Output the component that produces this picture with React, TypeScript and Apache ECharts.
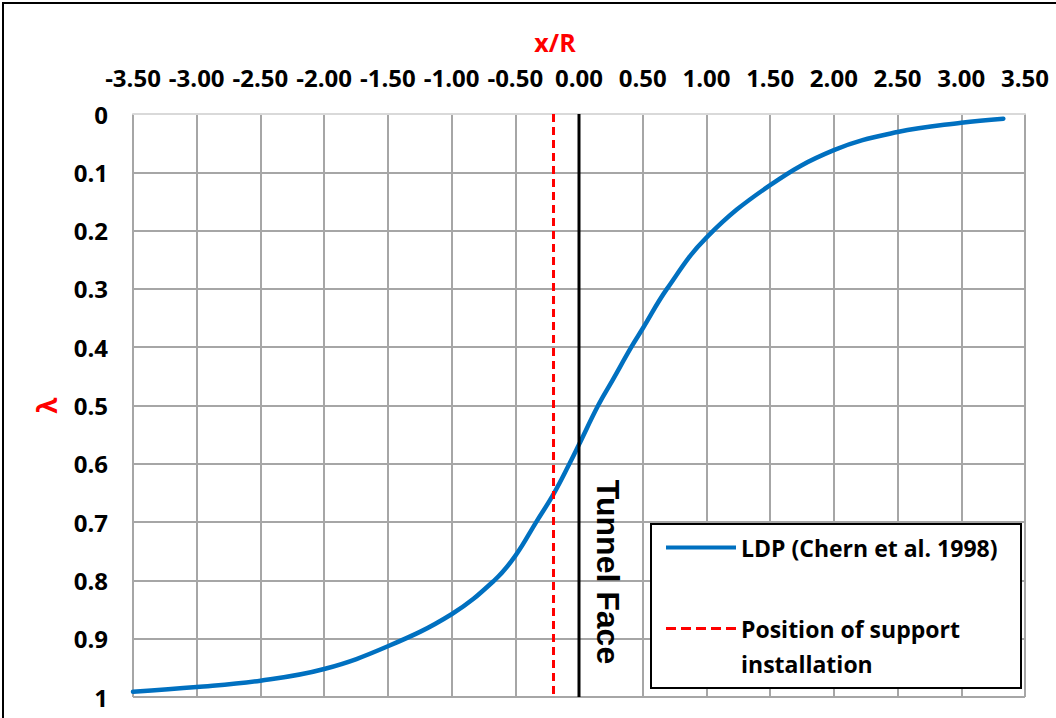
import React, { useEffect, useRef } from "react";
import * as echarts from "echarts";

// x/R positions
const xOverR = [-3.5, -3.0, -2.5, -2.0, -1.5, -1.0, -0.664, -0.5, -0.336, -0.2, -0.075, 0, 0.15, 0.265, 0.41, 0.5, 0.69, 1.0, 1.5, 2.0, 2.5, 3.0, 3.33];
// lambda values (inverted axis, 0 at top)
const lambdaVals = [0.991, 0.983, 0.972, 0.952, 0.913, 0.858, 0.8, 0.758, 0.7, 0.652, 0.6, 0.567, 0.5, 0.456, 0.4, 0.368, 0.3, 0.212, 0.122, 0.062, 0.031, 0.015, 0.008];

const supportX = -0.2;
const tunnelFaceX = 0;
const lambdaRange = [0, 1];

const ldpName = "LDP (Chern et al. 1998)";
const supportName = "Position of support installation";

export default function App() {
  const ref = useRef<HTMLDivElement>(null);
  useEffect(() => {
    if (!ref.current) return;
    const chart = echarts.init(ref.current, undefined, { renderer: "svg" });
    const font = "'Open Sans', sans-serif";
    const legendText = { color: "#000", fontFamily: font, fontWeight: "bold", fontSize: 23, lineHeight: 35 };
    chart.setOption({
      animation: false,
      backgroundColor: "#fff",
      grid: { left: 133, right: 31, top: 114, bottom: 21, containLabel: false },
      xAxis: {
        type: "value",
        position: "top",
        min: -3.5,
        max: 3.5,
        interval: 0.5,
        axisLine: { show: true, lineStyle: { color: "#D9D9D9", width: 2 } },
        axisTick: { show: false },
        axisLabel: {
          margin: 25,
          formatter: (v: number) => v.toFixed(2),
          color: "#000",
          fontFamily: font,
          fontWeight: "bold",
          fontSize: 24,
        },
        splitLine: { show: true, lineStyle: { color: "#A6A6A6", width: 2 } },
      },
      yAxis: {
        type: "value",
        inverse: true,
        min: 0,
        max: 1,
        interval: 0.1,
        name: "λ",
        nameLocation: "middle",
        nameRotate: 90,
        nameGap: 73,
        nameTextStyle: { color: "#FF0000", fontSize: 26, fontWeight: "bold", fontFamily: font },
        axisLine: { show: false },
        axisTick: { show: false },
        axisLabel: {
          margin: 25,
          formatter: (v: number) => String(Number(v.toFixed(1))),
          color: "#000",
          fontFamily: font,
          fontWeight: "bold",
          fontSize: 24,
        },
        splitLine: { show: true, showMinLine: false, lineStyle: { color: "#A6A6A6", width: 2 } },
      },
      legend: [
        {
          data: [{ name: ldpName, icon: "path://M0 0H70V4H0Z" }],
          left: 666,
          top: 530,
          padding: 0,
          z: 10,
          itemWidth: 70,
          itemHeight: 14,
          textStyle: legendText,
        },
        {
          data: [
            {
              name: supportName,
              icon: "path://M0 0H10V3H0Z M15 0H25V3H15Z M30 0H40V3H30Z M45 0H55V3H45Z M60 0H70V3H60Z",
            },
          ],
          left: 666,
          top: 576,
          padding: 0,
          z: 10,
          itemWidth: 70,
          itemHeight: 14,
          formatter: () => "\nPosition of support\ninstallation",
          textStyle: legendText,
        },
      ],
      series: [
        {
          name: ldpName,
          type: "line",
          smooth: 0.4,
          symbol: "none",
          data: xOverR.map((x, i) => [x, lambdaVals[i]]),
          lineStyle: { color: "#0070C0", width: 4.5, cap: "round" },
          itemStyle: { color: "#0070C0" },
          z: 3,
        },
        {
          name: supportName,
          type: "line",
          symbol: "none",
          data: lambdaRange.map((l) => [supportX, l]),
          lineStyle: { color: "#FF0000", width: 3, type: [8, 5] },
          itemStyle: { color: "#FF0000" },
          z: 4,
        },
        {
          name: "Tunnel Face",
          type: "line",
          symbol: "none",
          data: lambdaRange.map((l) => [tunnelFaceX, l]),
          lineStyle: { color: "#000", width: 3 },
          itemStyle: { color: "#000" },
          z: 4,
        },
      ],
      graphic: [
        {
          type: "rect",
          z: -10,
          silent: true,
          shape: { x: 3, y: 3, width: 1070, height: 730 },
          style: { fill: "none", stroke: "#000", lineWidth: 2 },
        },
        {
          type: "rect",
          z: 5,
          silent: true,
          shape: { x: 651, y: 524, width: 370, height: 164 },
          style: { fill: "#fff", stroke: "#000", lineWidth: 2 },
        },
        {
          type: "text",
          x: 555,
          y: 42,
          style: {
            text: "x/R",
            fill: "#FF0000",
            fontFamily: font,
            fontWeight: "bold",
            fontSize: 25,
            align: "center",
            verticalAlign: "middle",
            textAlign: "center",
            textVerticalAlign: "middle",
          },
        },
        {
          type: "text",
          x: 608,
          y: 572,
          rotation: -Math.PI / 2,
          z: 10,
          style: {
            text: "Tunnel Face",
            fill: "#000",
            fontFamily: "'Liberation Sans', Arial, sans-serif",
            fontWeight: "bold",
            fontSize: 32,
            align: "center",
            verticalAlign: "middle",
            textAlign: "center",
            textVerticalAlign: "middle",
          },
        },
      ],
    });
    return () => chart.dispose();
  }, []);
  return <div ref={ref} style={{ position: "fixed", left: 0, top: 0, width: 1056, height: 718 }} />;
}
